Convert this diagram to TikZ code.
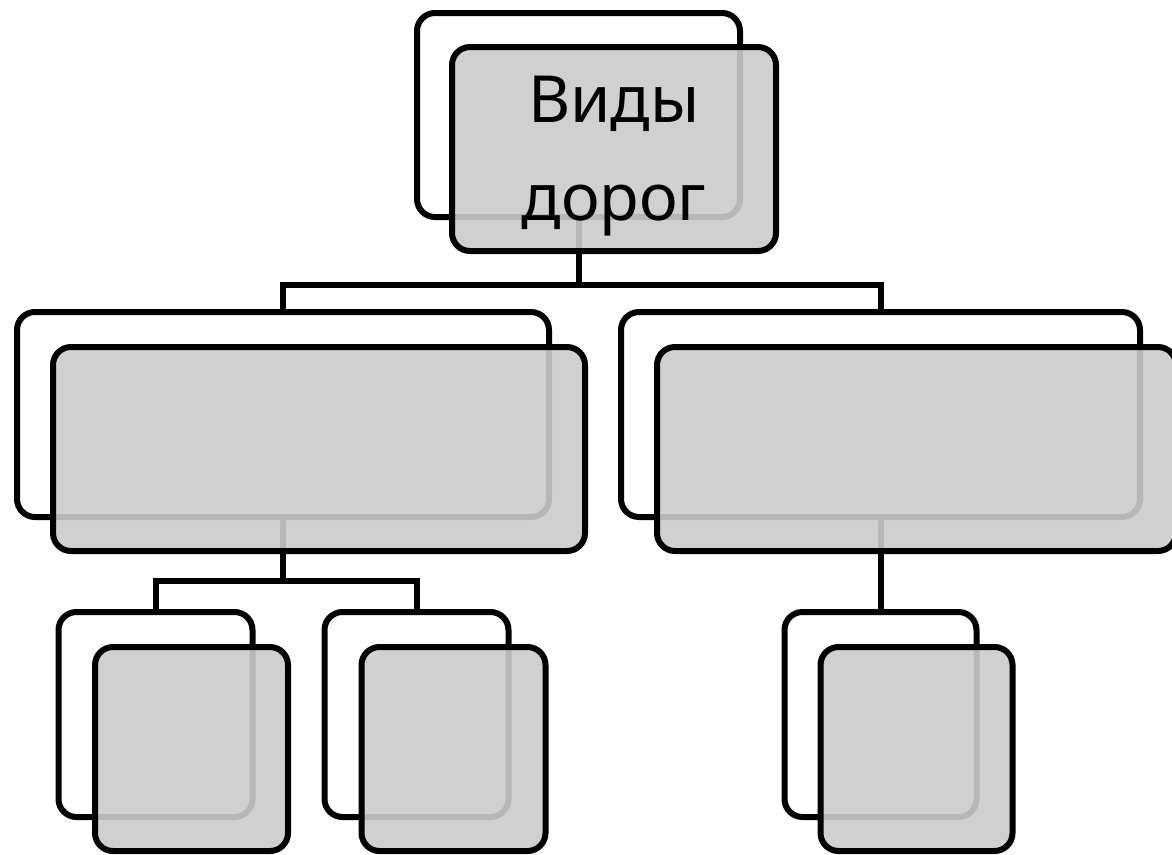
\documentclass[tikz,border=0pt]{standalone}
\usepackage{fontspec}
\setmainfont{Noto Sans}
\pgfdeclarelayer{background}
\pgfsetlayers{background,main}
\definecolor{frontgray}{RGB}{203,203,203}
\begin{document}
\begin{tikzpicture}[x=1pt,y=-1pt,
  back/.style={rectangle, draw=black, line width=6pt, fill=white, rounded corners=18pt, inner sep=0pt, outer sep=0pt},
  front/.style={rectangle, draw=black, line width=6pt, fill=frontgray, fill opacity=0.9, draw opacity=1, rounded corners=18pt, inner sep=0pt, outer sep=0pt},
  conn/.style={draw=black, line width=6pt},
  title/.style={align=center, font=\fontsize{65}{98}\selectfont, text=black, inner sep=0pt}]
\useasboundingbox (0,0) rectangle (1172,854);
% root
\node[back, minimum width=323pt, minimum height=204pt] (rb) at (578.5,115) {};
\node[front, minimum width=324pt, minimum height=204pt] (rf) at (614,149) {};
\node[title] (rt) at (614,156) {Виды\\дорог};
% level 2
\node[back, minimum width=532pt, minimum height=205pt] (lb) at (283,414.5) {};
\node[front, minimum width=532pt, minimum height=204pt] (lf) at (319,449) {};
\node[back, minimum width=519pt, minimum height=205pt] (rrb) at (880.5,414.5) {};
\node[front, minimum width=519pt, minimum height=204pt] (rrf) at (916.5,449) {};
% level 3
\node[back, minimum width=194pt, minimum height=205pt] (ab) at (155.5,714.5) {};
\node[front, minimum width=193pt, minimum height=204pt] (af) at (191.5,749) {};
\node[back, minimum width=184pt, minimum height=205pt] (bb) at (416.5,714.5) {};
\node[front, minimum width=184pt, minimum height=204pt] (bf) at (453.5,749) {};
\node[back, minimum width=192pt, minimum height=205pt] (cb) at (880.5,714.5) {};
\node[front, minimum width=192pt, minimum height=204pt] (cf) at (916.5,749) {};
% connectors
\coordinate (j1) at (578.5,285);
\coordinate (j2) at (283,581);
\begin{pgfonlayer}{background}
\draw[conn] (rb.south) -- (j1);
\draw[conn] (lb.north) |- (j1) -| (rrb.north);
\draw[conn] (lb.south) -- (j2);
\draw[conn] (ab.north) |- (j2) -| (bb.north);
\draw[conn] (rrb.south) -- (cb.north);
\end{pgfonlayer}
\end{tikzpicture}
\end{document}
